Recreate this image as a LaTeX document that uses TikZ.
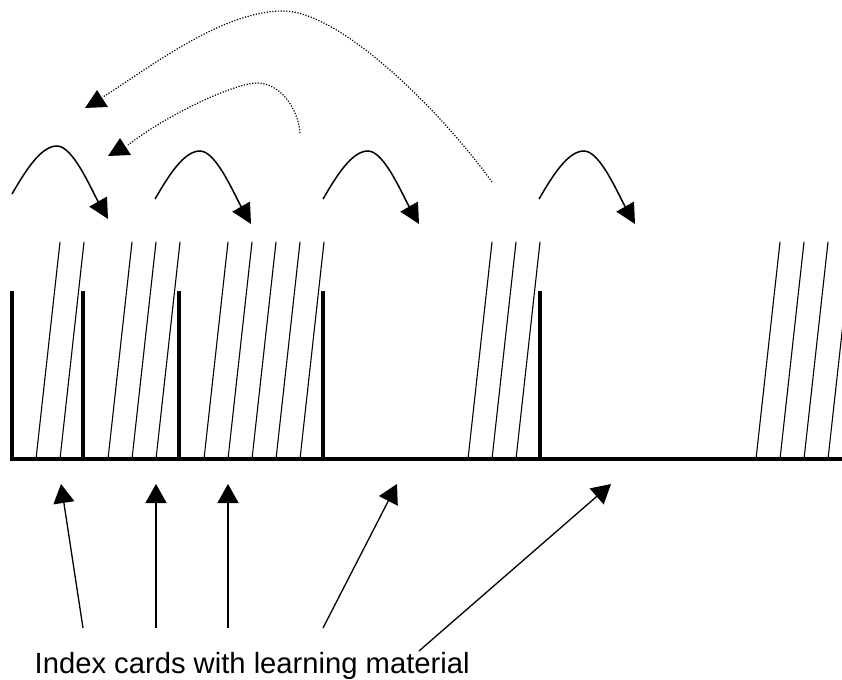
\documentclass[tikz,border=0pt]{standalone}
\usepackage{fontspec}
\setmainfont{Liberation Sans}
\usetikzlibrary{arrows.meta}
\begin{document}
\begin{tikzpicture}[x=1pt,y=-1pt,
  wall/.style={line width=3.2pt},
  card/.style={line width=1.1pt},
  hop/.style={line width=1.5pt, -{Triangle[length=20pt,width=20pt]}},
  pointer/.style={line width=1.3pt, -{Triangle[length=19pt,width=21pt]}},
  back/.style={line width=1.2pt, dash pattern=on 1.2pt off 1.6pt},
  backhead/.style={fill=black},
  captiontext/.style={font=\fontsize{29.2}{34}\selectfont, inner sep=0pt, anchor=base west}]
\useasboundingbox (0,0) rectangle (842,679);
\clip (0,0) rectangle (842,679);
% index cards (thin slanted lines)
\foreach \b in {36,60,108,132,156,204,228,252,276,300,468,492,516,756,780,804,828}
  \draw[card] (\b,459) -- (\b+24,242);
% box: floor and walls
\draw[wall] (12,291) -- (12,459) -- (842,459);
\foreach \w in {83,179,323,540}
  \draw[wall] (\w,291) -- (\w,459);
% forward hops
\foreach \sx/\sy in {12/194,155/199,323/199,539/199}
  \draw[hop] (\sx,\sy) .. controls +(14,-24) and +(-16,0) .. ++(45,-48)
                       .. controls +(16,0) and +(-17,-30) .. ++(51,73);
% dotted return arcs
\coordinate (bigend) at (492,182);
\coordinate (bigtip) at (103,97);
\draw[back] (bigend) .. controls (440,110) and (340,11) .. (283,11)
                     .. controls (223,11) and (153,65) .. (bigtip);
\fill[backhead] (97,90) -- (85,108) -- (108,107) -- cycle;
\coordinate (smallend) at (300,133);
\coordinate (smalltip) at (128,145);
\draw[back] (smallend) .. controls (298,108) and (280,83) .. (257,83)
                       .. controls (235,83) and (168,114) .. (smalltip);
\fill[backhead] (120,138) -- (108,156) -- (131,155) -- cycle;
% caption and pointers
\node[captiontext] (caption) at (34.5,673) {Index cards with learning material};
\coordinate (t1) at (83,628);  \coordinate (h1) at (61,484);
\coordinate (t2) at (156,628); \coordinate (h2) at (156,484);
\coordinate (t3) at (228,628); \coordinate (h3) at (228,484);
\coordinate (t4) at (323,628); \coordinate (h4) at (397,484);
\coordinate (t5) at (419,651); \coordinate (h5) at (611,484);
\foreach \i in {1,...,5}
  \draw[pointer] (t\i) -- (h\i);
\end{tikzpicture}
\end{document}
